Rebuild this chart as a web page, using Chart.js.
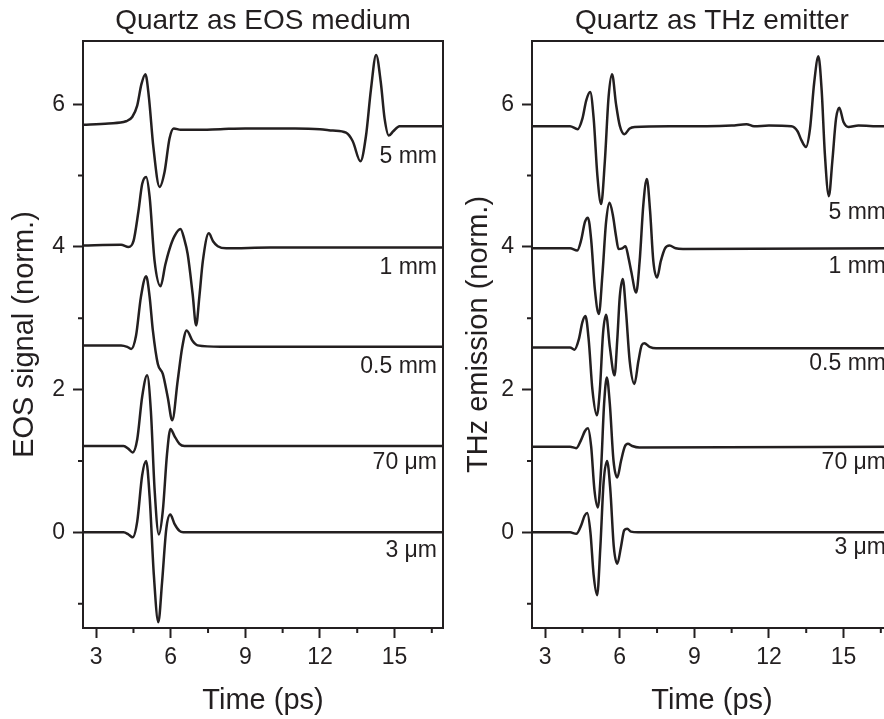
<!DOCTYPE html>
<html>
<head>
<meta charset="utf-8">
<script src="https://cdn.jsdelivr.net/npm/chart.js@4/dist/chart.umd.min.js"></script>
<style>
  html, body { margin: 0; padding: 0; background: #fff; width: 884px; height: 719px; overflow: hidden; }
  .wrap { position: relative; width: 884px; height: 719px; overflow: hidden; }
  canvas { position: absolute; top: 0; }
  #eos { left: 0; }
  #thz { left: 449px; }
</style>
</head>
<body>
<div class="wrap">
  <canvas id="eos" width="450" height="719"></canvas>
  <canvas id="thz" width="450" height="719"></canvas>
</div>
<script>
// time axis (ps) and offset signal axis
const xTicks = [3, 6, 9, 12, 15];
const xMinor = [4.5, 7.5, 10.5, 13.5, 16.5];
const yTicks = [0, 2, 4, 6];
const yMinor = [-1, 1, 3, 5];

const thickness = ['5 mm', '1 mm', '0.5 mm', '70 \u03bcm', '3 \u03bcm'];

// Quartz as EOS medium  [time ps, signal]
const eos5mm = [[2.4,5.71],[3.5,5.73],[4.2,5.76],[4.45,5.82],[4.65,5.98],[4.82,6.28],[4.98,6.42],[5.12,6.1],[5.3,5.4],[5.55,4.84],[5.75,5.05],[5.95,5.52],[6.12,5.66],[6.4,5.64],[7,5.64],[8,5.65],[9,5.66],[10,5.66],[11,5.66],[12,5.65],[12.52,5.63],[13.05,5.6],[13.32,5.48],[13.63,5.2],[13.85,5.55],[14.05,6.2],[14.26,6.69],[14.45,6.3],[14.6,5.8],[14.77,5.56],[14.95,5.62],[15.2,5.69],[16,5.69],[17,5.69]];
const eos1mm = [[2.4,4.02],[4.0,4.03],[4.3,4.0],[4.5,4.08],[4.7,4.5],[4.85,4.88],[5.01,4.98],[5.15,4.7],[5.35,3.8],[5.59,3.45],[5.78,3.75],[5.95,3.97],[6.15,4.15],[6.39,4.25],[6.55,4.1],[6.68,3.9],[6.88,3.34],[7.02,2.9],[7.15,3.3],[7.29,3.8],[7.53,4.19],[7.7,4.08],[7.89,4.01],[8.23,3.98],[10,3.99],[17,3.99]];
const eos05mm = [[2.4,2.62],[4.0,2.62],[4.25,2.6],[4.41,2.57],[4.6,2.75],[4.8,3.3],[5.01,3.59],[5.15,3.3],[5.28,2.83],[5.48,2.36],[5.68,2.22],[5.88,1.89],[6.06,1.57],[6.28,2.13],[6.46,2.59],[6.64,2.83],[6.88,2.68],[7.08,2.62],[8,2.6],[17,2.6]];
const eos70um = [[2.4,1.21],[4.1,1.21],[4.3,1.17],[4.47,1.12],[4.65,1.3],[4.85,1.9],[5.05,2.2],[5.2,1.7],[5.35,0.6],[5.52,-0.03],[5.68,0.3],[5.85,1.1],[5.99,1.45],[6.15,1.35],[6.35,1.24],[6.55,1.21],[17,1.21]];
const eos3um = [[2.4,0],[4.1,0],[4.3,-0.03],[4.47,-0.07],[4.65,0.15],[4.85,0.8],[5.01,1.0],[5.15,0.5],[5.32,-0.6],[5.5,-1.26],[5.65,-0.7],[5.82,0.05],[5.98,0.25],[6.15,0.12],[6.35,0.02],[6.5,0],[17,0]];

// Quartz as THz emitter  [time ps, emission]
const thz5mm = [[2.4,5.69],[4.0,5.69],[4.31,5.65],[4.5,5.8],[4.65,6.05],[4.81,6.17],[4.95,5.8],[5.1,5.0],[5.25,4.6],[5.4,5.2],[5.55,6.1],[5.69,6.42],[5.85,6.0],[6.0,5.7],[6.19,5.58],[6.4,5.66],[6.6,5.68],[8,5.69],[9.5,5.69],[10.5,5.7],[11.1,5.72],[11.4,5.69],[12,5.7],[12.9,5.69],[13.15,5.62],[13.3,5.5],[13.49,5.4],[13.65,5.65],[13.82,6.3],[13.99,6.67],[14.12,6.2],[14.25,5.3],[14.41,4.71],[14.55,5.2],[14.7,5.8],[14.83,5.95],[15.0,5.75],[15.2,5.68],[15.6,5.7],[16.5,5.69],[17.2,5.69]];
const thz1mm = [[2.4,3.98],[4.0,3.98],[4.29,3.95],[4.45,4.1],[4.6,4.35],[4.72,4.41],[4.85,4.1],[5.0,3.4],[5.16,3.06],[5.3,3.6],[5.45,4.35],[5.59,4.62],[5.72,4.45],[5.85,4.15],[5.95,3.97],[6.1,3.98],[6.23,4.01],[6.35,3.85],[6.46,3.66],[6.66,3.36],[6.8,3.8],[6.95,4.6],[7.09,4.95],[7.22,4.5],[7.35,3.8],[7.5,3.57],[7.65,3.8],[7.82,3.98],[8.0,4.02],[8.25,3.98],[8.54,3.97],[17.2,3.98]];
const thz05mm = [[2.4,2.59],[4.0,2.59],[4.18,2.56],[4.35,2.7],[4.5,2.95],[4.62,3.03],[4.75,2.7],[4.9,2.0],[5.08,1.64],[5.2,2.0],[5.33,2.8],[5.45,3.05],[5.6,2.6],[5.79,2.2],[5.9,2.7],[6.0,3.3],[6.12,3.55],[6.25,3.1],[6.4,2.4],[6.59,2.08],[6.75,2.4],[6.88,2.62],[6.99,2.65],[7.2,2.6],[7.46,2.58],[17.2,2.58]];
const thz70um = [[2.4,1.2],[4.0,1.2],[4.25,1.18],[4.45,1.3],[4.6,1.42],[4.72,1.46],[4.85,1.2],[4.98,0.6],[5.12,0.35],[5.25,0.9],[5.37,1.8],[5.48,2.17],[5.6,1.8],[5.75,1.0],[5.9,0.77],[6.05,1.0],[6.2,1.2],[6.33,1.24],[6.5,1.21],[6.79,1.19],[17.2,1.2]];
const thz3um = [[2.4,0],[4.0,0],[4.25,-0.02],[4.45,0.1],[4.58,0.23],[4.69,0.27],[4.82,0.0],[4.95,-0.6],[5.09,-0.88],[5.22,-0.2],[5.35,0.7],[5.49,1.0],[5.62,0.6],[5.76,-0.2],[5.9,-0.44],[6.05,-0.2],[6.18,0.03],[6.3,0.05],[6.45,0.01],[6.73,0],[17.2,0]];

const ink = '#231f20';
const fontFamily = "'Liberation Sans', Arial, Helvetica, sans-serif";
Chart.defaults.font.family = fontFamily;
Chart.defaults.color = ink;

// panel title over the plot box, box frame, short minor ticks, thickness labels
const extras = {
  id: 'extras',
  afterDatasetsDraw(chart, args, opts) {
    const {ctx, chartArea: a, scales: {x, y}} = chart;
    ctx.save();
    ctx.strokeStyle = ink;
    ctx.lineWidth = 2;
    ctx.strokeRect(a.left, a.top, a.right - a.left, a.bottom - a.top);
    ctx.beginPath();
    xMinor.forEach(v => {
      const px = x.getPixelForValue(v);
      ctx.moveTo(px, a.bottom); ctx.lineTo(px, a.bottom + 5);
    });
    yMinor.forEach(v => {
      const py = y.getPixelForValue(v);
      ctx.moveTo(a.left - 5, py); ctx.lineTo(a.left, py);
    });
    ctx.stroke();
    ctx.fillStyle = ink;
    ctx.textBaseline = 'middle';
    ctx.textAlign = 'center';
    ctx.font = '28px ' + fontFamily;
    ctx.fillText(opts.title, (a.left + a.right) / 2, 21);
    ctx.textAlign = 'right';
    ctx.font = '23px ' + fontFamily;
    thickness.forEach((t, i) => {
      ctx.fillText(t, a.right - 6, y.getPixelForValue(opts.labelY[i]));
    });
    ctx.restore();
  }
};

function makePanel(id, title, yTitle, series, labelY, yTitlePad) {
  new Chart(document.getElementById(id), {
    type: 'line',
    data: {
      datasets: series.map(s => ({
        data: s.map(p => ({x: p[0], y: p[1]})),
        borderColor: ink,
        borderWidth: 2.5,
        pointRadius: 0,
        cubicInterpolationMode: 'monotone',
        fill: false
      }))
    },
    options: {
      responsive: false,
      animation: false,
      layout: { padding: { top: 41, right: 7, bottom: 0, left: 0 } },
      plugins: {
        legend: { display: false },
        tooltip: { enabled: false },
        extras: { title: title, labelY: labelY }
      },
      scales: {
        x: {
          type: 'linear',
          min: 2.47,
          max: 16.95,
          afterBuildTicks: s => { s.ticks = xTicks.map(v => ({value: v})); },
          afterFit: s => { s.height = 91; },
          ticks: { font: { size: 23 }, color: ink, padding: 6, maxRotation: 0, autoSkip: false },
          grid: { drawOnChartArea: false, drawTicks: true, tickLength: 10, tickWidth: 2, tickColor: ink },
          border: { display: true, color: ink, width: 2 },
          title: { display: true, text: 'Time (ps)', color: ink, font: { size: 29 }, padding: { top: 0, bottom: 0.8 } }
        },
        y: {
          type: 'linear',
          min: -1.34,
          max: 6.885,
          afterBuildTicks: s => { s.ticks = yTicks.map(v => ({value: v})); },
          afterFit: s => { s.width = 83; },
          ticks: { font: { size: 23 }, color: ink, padding: 8 },
          grid: { drawOnChartArea: false, drawTicks: true, tickLength: 10, tickWidth: 2, tickColor: ink },
          border: { display: true, color: ink, width: 2 },
          title: { display: true, text: yTitle, color: ink, font: { size: 29 }, padding: { top: yTitlePad, bottom: 0 } }
        }
      }
    },
    plugins: [extras]
  });
}

makePanel('eos', 'Quartz as EOS medium', 'EOS signal (norm.)',
  [eos5mm, eos1mm, eos05mm, eos70um, eos3um], [5.27, 3.71, 2.32, 0.97, -0.25], 7.6);
makePanel('thz', 'Quartz as THz emitter', 'THz emission (norm.)',
  [thz5mm, thz1mm, thz05mm, thz70um, thz3um], [4.48, 3.73, 2.36, 0.98, -0.21], 12.6);
</script>
</body>
</html>
